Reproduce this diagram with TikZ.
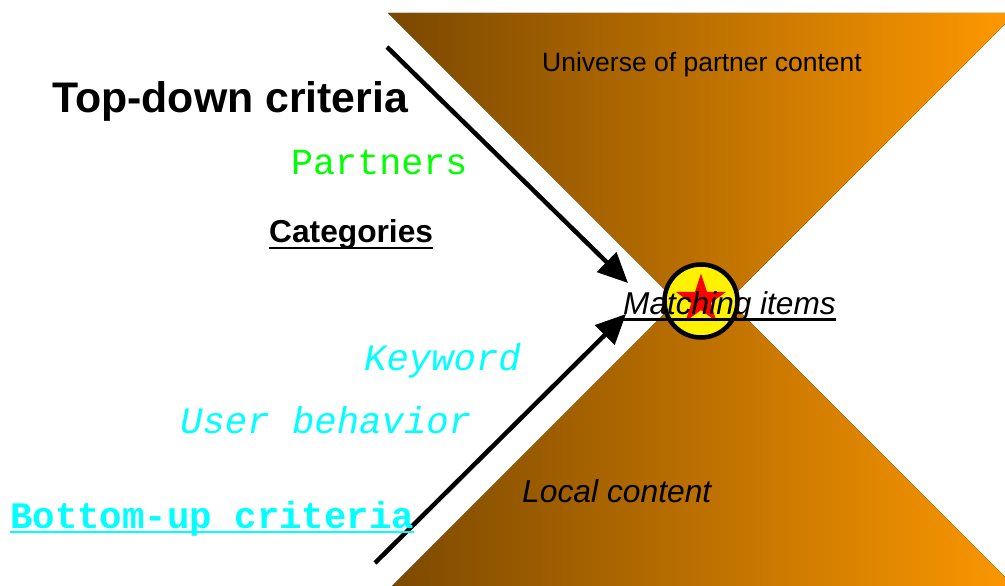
\documentclass[tikz,border=0pt]{standalone}
\usepackage{fontspec}
\setmainfont{Liberation Sans}
\setmonofont{Liberation Mono}
\usetikzlibrary{arrows.meta,shapes.geometric}
\definecolor{hgDark}{RGB}{122,72,0}
\definecolor{hgLight}{RGB}{255,153,0}
\definecolor{hgCyan}{RGB}{0,255,255}
\definecolor{hgGreen}{RGB}{0,255,0}
\tikzset{
  funnel/.style={left color=hgDark,right color=hgLight,draw=none},
  flow/.style={line width=4.5pt,-{Triangle[length=30pt,width=27pt]}},
  lbl/.style={inner sep=0pt,anchor=base west},
  uline/.style={line width=2.5pt}
}
\newcommand{\fsz}[1]{\fontsize{#1}{#1}\selectfont}

\begin{document}
\begin{tikzpicture}[x=1pt,y=-1pt]
\useasboundingbox (0,0) rectangle (1005,586);
\clip (0,0) rectangle (1005,586);
% hourglass: upper and lower funnel
\fill[funnel] (388,13) -- (1016,13) -- (702,327) -- cycle;
\fill[funnel] (703,275) -- (1028,600) -- (378,600) -- cycle;

% criteria flowing into the middle
\coordinate (topfrom) at (387,47);
\coordinate (topto) at (628,283);
\coordinate (botfrom) at (375,563);
\coordinate (botto) at (626,314);
\draw[flow] (topfrom) -- (topto);
\draw[flow] (botfrom) -- (botto);

% the hub with the star
\node[circle,draw=black,line width=4.5pt,fill=yellow,minimum size=73pt,inner sep=0pt] (hub) at (701,301) {};
\node[star,star points=5,star point ratio=2.618,fill=red,inner sep=0pt,minimum size=53pt] (spark) at (701,300) {};
\node[lbl,font=\itshape\fsz{31.6}] (match) at (623,314) {Matching items};
\draw[uline,line width=3pt] ([yshift=-5pt]match.base west) -- ([yshift=-5pt]match.base east);

% labels
\node[lbl,font=\fsz{26.5}] (universe) at (542,72) {Universe of partner content};
\node[lbl,font=\itshape\fsz{31.8}] (local) at (522,502) {Local content};
\node[lbl,font=\bfseries\fsz{42.8}] (topdown) at (52,113) {Top-down criteria};
\node[lbl,font=\ttfamily\fsz{36.7},text=hgGreen] (partners) at (291,175) {Partners};
\node[lbl,font=\bfseries\fsz{31.7}] (categories) at (269,242) {Categories};
\draw[uline] ([yshift=-6pt]categories.base west) -- ([yshift=-6pt]categories.base east);
\node[lbl,font=\ttfamily\itshape\fsz{37.3},text=hgCyan] (keyword) at (364,370) {Keyword};
\node[lbl,font=\ttfamily\itshape\fsz{37.3},text=hgCyan] (behavior) at (180,433) {User behavior};
\node[lbl,font=\ttfamily\bfseries\fsz{37.4},text=hgCyan] (bottomup) at (10,528) {Bottom-up criteria};
\draw[uline,line width=2pt,draw=hgCyan] ([yshift=-4pt]bottomup.base west) -- ([yshift=-4pt]bottomup.base east);
\end{tikzpicture}
\end{document}
